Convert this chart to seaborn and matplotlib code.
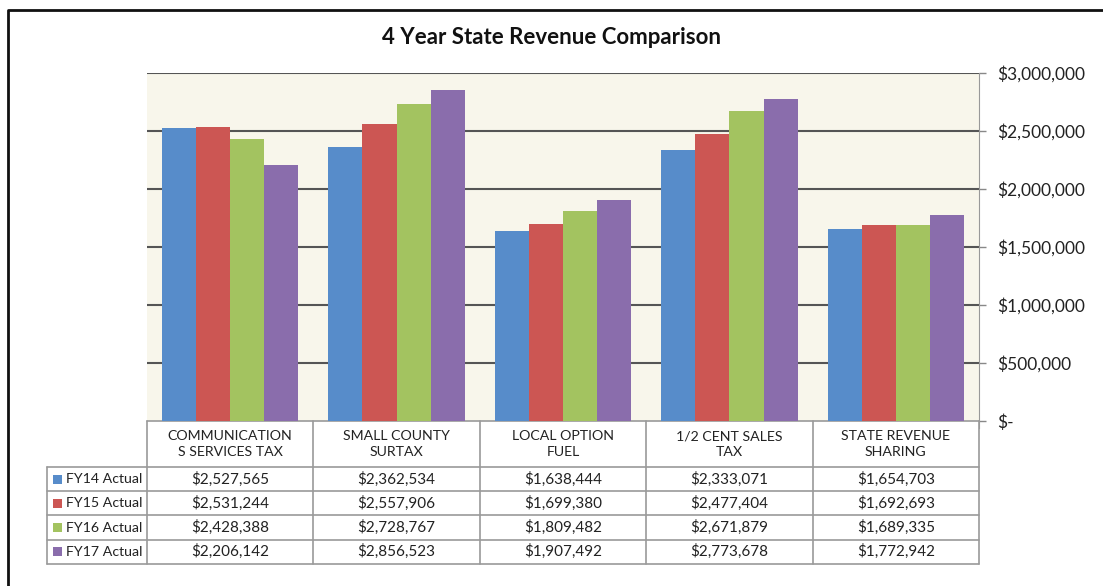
#Import Libraries
import matplotlib
matplotlib.use('Agg')
import matplotlib.pyplot as plt
import matplotlib.transforms as mtransforms
from matplotlib.patches import Rectangle
from matplotlib.lines import Line2D
import seaborn as sns
import pandas as pd

#Chart data
categories = ['COMMUNICATION\nS SERVICES TAX', 'SMALL COUNTY\nSURTAX', 'LOCAL OPTION\nFUEL',
              '1/2 CENT SALES\nTAX', 'STATE REVENUE\nSHARING']
seriesNames = ['FY14 Actual', 'FY15 Actual', 'FY16 Actual', 'FY17 Actual']
fy14 = [2527565, 2362534, 1638444, 2333071, 1654703]
fy15 = [2531244, 2557906, 1699380, 2477404, 1692693]
fy16 = [2428388, 2728767, 1809482, 2671879, 1689335]
fy17 = [2206142, 2856523, 1907492, 2773678, 1772942]
yTicks = [0, 500000, 1000000, 1500000, 2000000, 2500000, 3000000]
colors = ['#578CCA', '#CC5653', '#A3C360', '#8A6DAC']

allSeries = [fy14, fy15, fy16, fy17]
rows = []
for name, values in zip(seriesNames, allSeries):
    for cat, v in zip(categories, values):
        rows.append({'category': cat, 'series': name, 'value': v})
df = pd.DataFrame(rows)

sns.set_style('white')
plt.rcParams['font.family'] = ['Lato', 'DejaVu Sans']

W, H = 1103, 586
fig = plt.figure(figsize=(W / 100, H / 100), dpi=100)
fig.patch.set_facecolor('white')

#Plot area in pixels
left, right, top, bottom = 147, 979, 73, 421
ax = fig.add_axes([left / W, (H - bottom) / H, (right - left) / W, (bottom - top) / H])
ax.set_facecolor('#F8F6EB')

sns.barplot(data=df, x='category', y='value', hue='series', palette=colors,
            width=0.82, gap=0, saturation=1, legend=False, ax=ax, zorder=3,
            linewidth=0, edgecolor='none')

ax.set_xlim(-0.5, len(categories) - 0.5)
ax.set_ylim(0, 3000000)
ax.set_yticks(yTicks)
ax.set_yticklabels(['$-' if t == 0 else f'${t:,}' for t in yTicks], fontsize=12.5, color='#222222')
ax.yaxis.tick_right()
ax.tick_params(axis='y', direction='out', length=5, width=1, color='#888888', pad=8)
ax.set_xticks([])
ax.set_xlabel('')
ax.set_ylabel('')
for t in yTicks[1:]:
    ax.axhline(t, color='#555555', lw=1.5, zorder=2)
for s in ['top', 'left', 'bottom']:
    ax.spines[s].set_visible(False)
ax.spines['right'].set_color('#999999')
ax.spines['right'].set_bounds(-60000, 3000000)

#Title
fig.text(0.5, (H - 37) / H, '4 Year State Revenue Comparison', ha='center', va='center',
         fontsize=16, fontweight='bold', color='#111111')

#Data table under the chart
pxY = lambda yp: (bottom - yp) / (bottom - top)   # pixel y -> axes fraction
pxX = lambda xp: (xp - left) / (right - left)      # pixel x -> axes fraction
headerBottom = 467
rowH = 24.2
lineColor = '#9A9A9A'
tableBottom = headerBottom + rowH * len(seriesNames)
blend = mtransforms.blended_transform_factory(ax.transData, ax.transAxes)

#horizontal lines
ax.plot([0, 1], [0, 0], transform=ax.transAxes, color=lineColor, lw=1.2, clip_on=False)
for i in range(len(seriesNames) + 1):
    yy = pxY(headerBottom + i * rowH)
    ax.plot([pxX(47), 1], [yy, yy], transform=ax.transAxes, color=lineColor, lw=1.2, clip_on=False)
#vertical lines
for i in range(len(categories) + 1):
    ax.plot([i - 0.5, i - 0.5], [0, pxY(tableBottom)], transform=blend, color=lineColor,
            lw=1.2, clip_on=False)
ax.plot([pxX(47), pxX(47)], [pxY(headerBottom), pxY(tableBottom)], transform=ax.transAxes,
        color=lineColor, lw=1.2, clip_on=False)

#header text
for i, cat in enumerate(categories):
    ax.text(i, pxY((bottom + headerBottom) / 2), cat, transform=blend, ha='center', va='center',
            fontsize=10.2, color='#222222', linespacing=1.3, clip_on=False)

#rows
for r, (name, values) in enumerate(zip(seriesNames, allSeries)):
    yc = pxY(headerBottom + (r + 0.5) * rowH)
    ax.add_patch(Rectangle((pxX(53), yc - 4.5 / 348), 9 / 832, 9 / 348, transform=ax.transAxes,
                           facecolor=colors[r], edgecolor='none', clip_on=False))
    ax.text(pxX(66), yc, name, transform=ax.transAxes, ha='left', va='center', fontsize=10.2,
            color='#222222', clip_on=False)
    for i, v in enumerate(values):
        ax.text(i, yc, f'${v:,}', transform=blend, ha='center', va='center', fontsize=11,
                color='#222222', clip_on=False)

#Outer border (left and top edges only show in the frame)
fig.lines.append(Line2D([8 / W, 8 / W, 1], [0, (H - 10) / H, (H - 10) / H],
                        transform=fig.transFigure, color='#111111', lw=2))

fig.savefig('out.png', dpi=100)
